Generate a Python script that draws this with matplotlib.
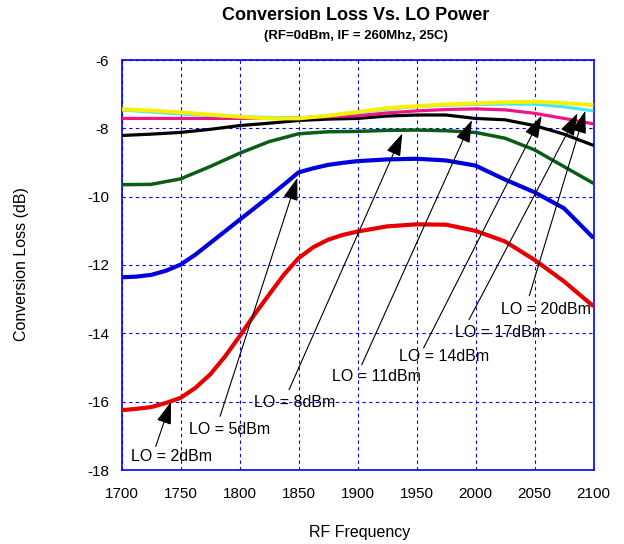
import matplotlib
matplotlib.use("Agg")
import matplotlib.pyplot as plt

plt.rcParams['font.family'] = ['Liberation Sans', 'DejaVu Sans']

freq = [1700, 1725, 1750, 1775, 1800, 1825, 1850, 1875, 1900, 1925, 1950, 1975, 2000, 2025, 2050, 2075, 2100]
freq_fine = [1700, 1712.5, 1725, 1737.5, 1750, 1762.5, 1775, 1787.5, 1800, 1812.5, 1825, 1837.5,
             1850, 1862.5, 1875, 1887.5, 1900, 1925, 1950, 1975, 2000, 2025, 2050, 2075, 2100]

lo_2dbm = [-16.25, -16.21, -16.16, -16.04, -15.89, -15.60, -15.21, -14.69, -14.09, -13.46, -12.87, -12.29,
           -11.80, -11.48, -11.26, -11.12, -11.02, -10.87, -10.81, -10.82, -11.00, -11.31, -11.85, -12.48, -13.21]
lo_5dbm = [-12.36, -12.34, -12.29, -12.17, -11.99, -11.70, -11.36, -11.02, -10.68, -10.34, -10.00, -9.65,
           -9.29, -9.17, -9.07, -9.01, -8.96, -8.91, -8.89, -8.94, -9.09, -9.50, -9.87, -10.34, -11.21]
lo_8dbm = [-9.65, -9.64, -9.48, -9.12, -8.73, -8.39, -8.16, -8.10, -8.09, -8.06, -8.05, -8.07, -8.12, -8.29, -8.63, -9.12, -9.61]
lo_11dbm = [-8.21, -8.17, -8.12, -8.03, -7.92, -7.85, -7.77, -7.73, -7.71, -7.64, -7.61, -7.61, -7.71, -7.75, -7.92, -8.17, -8.50]
lo_14dbm = [-7.71, -7.71, -7.71, -7.71, -7.71, -7.70, -7.69, -7.66, -7.63, -7.55, -7.49, -7.45, -7.43, -7.46, -7.56, -7.71, -7.87]
lo_17dbm = [-7.46, -7.52, -7.58, -7.62, -7.66, -7.68, -7.70, -7.63, -7.54, -7.44, -7.36, -7.32, -7.30, -7.29, -7.29, -7.37, -7.49]
lo_20dbm = [-7.44, -7.48, -7.53, -7.60, -7.66, -7.71, -7.71, -7.63, -7.52, -7.41, -7.35, -7.30, -7.27, -7.24, -7.22, -7.26, -7.32]

series = [(freq_fine, lo_2dbm), (freq_fine, lo_5dbm), (freq, lo_8dbm), (freq, lo_11dbm),
          (freq, lo_14dbm), (freq, lo_17dbm), (freq, lo_20dbm)]
colors = ['#E60000', '#0000DD', '#0A5E14', '#000000', '#F0148C', '#40E8F8', '#F8F000']
widths = [3.0, 3.0, 2.5, 2.3, 2.3, 2.3, 2.8]

labels = ['LO = 2dBm', 'LO = 5dBm', 'LO = 8dBm', 'LO = 11dBm', 'LO = 14dBm', 'LO = 17dBm', 'LO = 20dBm']
label_pos = [(1708, -17.60), (1757, -16.80), (1812, -16.02), (1878, -15.26), (1935, -14.67), (1982.6, -13.99), (2021.6, -13.31)]
arrow_tail = [(1729, -17.31), (1783.5, -16.43), (1842, -15.65), (1903.6, -14.92), (1956, -14.43), (1994.5, -13.60), (2045.6, -12.90)]
arrow_tip = [(1742, -16.0), (1849, -9.45), (1938, -8.15), (1997, -7.76), (2056, -7.63), (2086.5, -7.56), (2093, -7.49)]

xticks = [1700, 1750, 1800, 1850, 1900, 1950, 2000, 2050, 2100]
yticks = [-18, -16, -14, -12, -10, -8, -6]

fig = plt.figure(figsize=(6.24, 5.44), dpi=100)
ax = fig.add_axes([121.5 / 624, 1 - 470 / 544, 472 / 624, 410 / 544])

for (xs, vals), c, w in zip(series, colors, widths):
    ax.plot(xs, vals, color=c, lw=w, solid_capstyle='butt', solid_joinstyle='round', zorder=3)

for lab, (tx, ty), tail, tip in zip(labels, label_pos, arrow_tail, arrow_tip):
    ax.text(tx, ty, lab, fontsize=11.5, ha='left', va='center', zorder=5)
    ax.annotate('', xy=tip, xytext=tail,
                arrowprops=dict(arrowstyle='-|>,head_length=1.0,head_width=0.33',
                                mutation_scale=14, lw=0.8, color='black',
                                shrinkA=0, shrinkB=0), zorder=6)

ax.set_xlim(1700, 2100)
ax.set_ylim(-18, -6)
ax.set_xticks(xticks)
ax.set_yticks(yticks)
ax.set_xticklabels([str(v) for v in xticks])
ax.set_yticklabels([str(v) for v in yticks])
ax.tick_params(axis='both', length=0, labelsize=11)
ax.tick_params(axis='x', pad=12)
ax.tick_params(axis='y', pad=9)
ax.grid(True, color='#0000FF', linestyle=(0, (3, 3)), lw=0.8, zorder=1)
ax.set_axisbelow(True)
for s in ax.spines.values():
    s.set_color('#0000FF')
    s.set_linewidth(1.2)

fig.text(356 / 624, 1 - 16 / 544, 'Conversion Loss Vs. LO Power', fontsize=13,
         fontweight='bold', ha='center', va='center')
fig.text(356 / 624, 1 - 36 / 544, '(RF=0dBm, IF = 260Mhz, 25C)', fontsize=9.5,
         fontweight='bold', ha='center', va='center')
fig.text(22 / 624, 1 - 264 / 544, 'Conversion Loss (dB)', fontsize=11.5,
         rotation=90, ha='center', va='center')
fig.text(360 / 624, 1 - 532 / 544, 'RF Frequency', fontsize=11.5,
         ha='center', va='center')

fig.savefig('out.png', dpi=100)
